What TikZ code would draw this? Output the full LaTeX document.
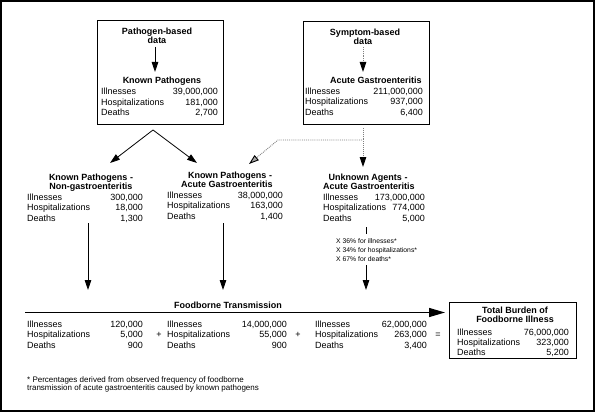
\documentclass[tikz,border=0pt]{standalone}
\usepackage{fontspec}
\setmainfont{Liberation Sans}
\usetikzlibrary{arrows.meta}
\newcommand\fsnorm{\fontsize{9}{10.5}\selectfont}
\newcommand\fsbold{\fontsize{9}{10.5}\selectfont\bfseries}
\newcommand\fssmall{\fontsize{6.8}{9}\selectfont}
\newcommand\fsnote{\fontsize{8}{8}\selectfont}
\newcommand\statrow[6]{%
  \node[lbl] (#1l) at (#2,#4) {#5};
  \node[val] (#1v) at (#3,#4) {#6};}
\tikzset{
  lbl/.style={anchor=base west, inner sep=0pt, font=\fsnorm},
  val/.style={anchor=base east, inner sep=0pt, font=\fsnorm},
  head/.style={anchor=base, inner sep=0pt, font=\fsbold},
  pct/.style={anchor=base west, inner sep=0pt, font=\fssmall},
  note/.style={anchor=base west, inner sep=0pt, font=\fsnote},
  sym/.style={anchor=center, inner sep=0pt, font=\fsnorm},
  boxed/.style={draw, line width=0.9pt},
  arr/.style={-{Triangle[length=10pt,width=6.5pt]}, line width=0.8pt},
  dotarr/.style={-{Triangle[length=10pt,width=6.5pt,fill=gray!70,color=black]}, draw=gray, densely dotted, line width=0.9pt},
  dotvarr/.style={-{Triangle[length=10pt,width=6.5pt,fill=black,color=black]}, draw=gray, densely dotted, line width=0.9pt},
  bigarr/.style={-{Triangle[length=16pt,width=9pt]}, line width=1.4pt}
}
\begin{document}
\begin{tikzpicture}[x=1pt,y=-1pt]
\useasboundingbox (0,0) rectangle (595,412);
\draw[line width=1.2pt] (1,1) rectangle (594,411);

% ---------- top left box ----------
\draw[boxed] (97,20) rectangle (223,124);
\node[head] (pb1) at (157,35) {Pathogen-based};
\node[head] (pb2) at (157,44) {data};
\node[head] (kph) at (162,84) {Known Pathogens};
\statrow{kpI}{101}{218}{95}{Illnesses}{39,000,000}
\statrow{kpH}{101}{218}{105.5}{Hospitalizations}{181,000}
\statrow{kpD}{101}{218}{116}{Deaths}{2,700}
\coordinate (a1s) at (155,47);
\coordinate (a1e) at (155,72);
\draw[arr] (a1s) -- (a1e);

% ---------- top right box ----------
\draw[boxed] (303,21) rectangle (429,124);
\node[head] (sb1) at (365,36) {Symptom-based};
\node[head] (sb2) at (363,45) {data};
\node[head] (agh) at (376,84) {Acute Gastroenteritis};
\statrow{agI}{305}{423}{95}{Illnesses}{211,000,000}
\statrow{agH}{305}{423}{105}{Hospitalizations}{937,000}
\statrow{agD}{305}{423}{115}{Deaths}{6,400}
\coordinate (a2s) at (363,47);
\coordinate (a2e) at (363,72);
\draw[dotvarr] (a2s) -- (a2e);

% ---------- split arrows ----------
\coordinate (apex) at (153,130);
\coordinate (tipL) at (110,163);
\coordinate (tipM) at (197,163);
\draw[arr] (apex) -- (tipL);
\draw[arr] (apex) -- (tipM);

\coordinate (vtop) at (363,128);
\coordinate (vtip) at (363,167);
\draw[dotvarr] (vtop) -- (vtip);
\coordinate (dstart) at (362,140);
\coordinate (dbend) at (278,140);
\coordinate (dtip) at (249,164);
\draw[dotarr] (dstart) -- (dbend) -- (dtip);

% ---------- middle row ----------
\node[head] (ng1) at (91,180) {Known Pathogens -};
\node[head] (ng2) at (91,189) {Non-gastroenteritis};
\statrow{ngI}{27}{143}{200}{Illnesses}{300,000}
\statrow{ngH}{27}{143}{210.5}{Hospitalizations}{18,000}
\statrow{ngD}{27}{143}{221}{Deaths}{1,300}

\node[head] (kg1) at (230,178) {Known Pathogens -};
\node[head] (kg2) at (227,187) {Acute Gastroenteritis};
\statrow{kgI}{167}{283}{198}{Illnesses}{38,000,000}
\statrow{kgH}{167}{283}{208.5}{Hospitalizations}{163,000}
\statrow{kgD}{167}{283}{219}{Deaths}{1,400}

\node[head] (ua1) at (368,180) {Unknown Agents -};
\node[head] (ua2) at (369,189) {Acute Gastroenteritis};
\statrow{uaI}{323}{425}{200}{Illnesses}{173,000,000}
\statrow{uaH}{323}{425}{210.5}{Hospitalizations}{774,000}
\statrow{uaD}{323}{425}{221}{Deaths}{5,000}

% ---------- vertical arrows ----------
\coordinate (v1s) at (88,223);
\coordinate (v1e) at (88,290);
\draw[arr] (v1s) -- (v1e);
\coordinate (v2s) at (223,223);
\coordinate (v2e) at (223,290);
\draw[arr] (v2s) -- (v2e);
\coordinate (v3s) at (366,227);
\coordinate (v3e) at (366,234);
\draw[line width=0.8pt] (v3s) -- (v3e);
\node[pct] (p1) at (336,243.5) {X 36\% for illnesses*};
\node[pct] (p2) at (336,252.5) {X 34\% for hospitalizations*};
\node[pct] (p3) at (336,261.5) {X 67\% for deaths*};
\coordinate (v4s) at (366,265);
\coordinate (v4e) at (366,290);
\draw[arr] (v4s) -- (v4e);

% ---------- foodborne transmission ----------
\node[head] (ft) at (228,308) {Foodborne Transmission};
\coordinate (hs) at (25,312.5);
\coordinate (he) at (445,312.5);
\draw[bigarr] (hs) -- (he);

\statrow{b1I}{27}{143}{327}{Illnesses}{120,000}
\statrow{b1H}{27}{143}{337.5}{Hospitalizations}{5,000}
\statrow{b1D}{27}{143}{348}{Deaths}{900}
\node[sym] (plus1) at (159,335) {+};
\statrow{b2I}{167}{287}{327}{Illnesses}{14,000,000}
\statrow{b2H}{167}{287}{337.5}{Hospitalizations}{55,000}
\statrow{b2D}{167}{287}{348}{Deaths}{900}
\node[sym] (plus2) at (298,335) {+};
\statrow{b3I}{315}{427}{327}{Illnesses}{62,000,000}
\statrow{b3H}{315}{427}{337.5}{Hospitalizations}{263,000}
\statrow{b3D}{315}{427}{348}{Deaths}{3,400}
\node[sym] (eq) at (438,335) {=};

% ---------- total box ----------
\draw[boxed] (449,302) rectangle (576,358);
\node[head] (tb1) at (515,313) {Total Burden of};
\node[head] (tb2) at (515,322) {Foodborne Illness};
\statrow{tbI}{457}{569}{335}{Illnesses}{76,000,000}
\statrow{tbH}{457}{569}{345}{Hospitalizations}{323,000}
\statrow{tbD}{457}{569}{355}{Deaths}{5,200}

% ---------- footnote ----------
\node[note] (fn1) at (27,382) {* Percentages derived from observed frequency of foodborne};
\node[note] (fn2) at (27,390) {transmission of acute gastroenteritis caused by known pathogens};
\end{tikzpicture}
\end{document}
